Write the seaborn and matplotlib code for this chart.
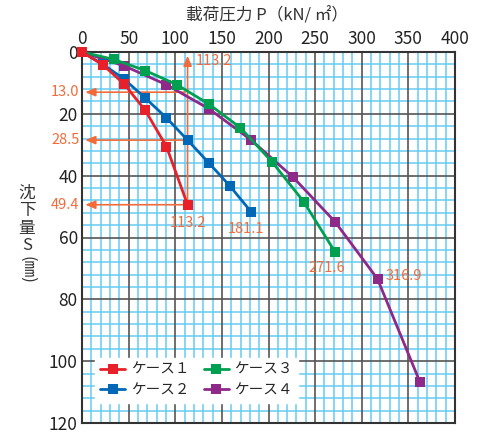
import pandas as pd
import matplotlib
matplotlib.use("Agg")
import matplotlib.pyplot as plt
import seaborn as sns

# load (kN/m2) and settlement (mm)
case_names = ["ケース１", "ケース２", "ケース３", "ケース４"]
case_colors = ["#E8202A", "#0068B7", "#00A051", "#8E2889"]

p_case1 = [0, 22.6, 45.3, 67.9, 90.6, 113.2]
s_case1 = [0, 4.2, 10.4, 18.9, 30.6, 49.4]

p_case2 = [0, 22.6, 45.3, 67.9, 90.6, 113.2, 135.8, 158.5, 181.1]
s_case2 = [0, 4.0, 8.8, 14.9, 21.3, 28.5, 35.8, 43.3, 51.6]

p_case3 = [0, 34.0, 67.9, 101.9, 135.8, 169.8, 203.7, 237.7, 271.6]
s_case3 = [0, 2.4, 6.0, 10.6, 16.8, 24.5, 35.5, 48.4, 64.8]

p_case4 = [0, 45.3, 90.6, 135.8, 181.1, 226.4, 271.6, 316.9, 362.2]
s_case4 = [0, 4.5, 10.6, 18.3, 28.4, 40.5, 55.0, 73.4, 106.6]

# orange annotations
p_limit = 113.2
s_marks = [13.0, 28.5, 49.4]
end_labels = ["113.2", "181.1", "271.6", "316.9"]

ORANGE = "#F26B3A"

sns.set_style("white")
plt.rcParams['font.family'] = ['Noto Sans CJK JP', 'DejaVu Sans']

fig = plt.figure(figsize=(4.87, 4.32), dpi=100)
ax = fig.add_axes([82 / 487, 1 - 423 / 432, 373 / 487, 371 / 432])

frames = []
for name, p, s in zip(case_names, [p_case1, p_case2, p_case3, p_case4],
                      [s_case1, s_case2, s_case3, s_case4]):
    frames.append(pd.DataFrame({"P": p, "S": s, "case": name}))
df = pd.concat(frames, ignore_index=True)

# draw case 4 first so case 1 sits on top
zorders = {name: 10 - i for i, name in enumerate(case_names)}
for name, color in reversed(list(zip(case_names, case_colors))):
    sub = df[df["case"] == name]
    sns.lineplot(data=sub, x="P", y="S", ax=ax, color=color, sort=False,
                 marker="s", markersize=7.5, markeredgewidth=0, linewidth=2,
                 label=name, zorder=zorders[name], clip_on=False)

ax.set_xlim(0, 400)
ax.set_ylim(120, 0)

# grid: cyan minor, dark major
for x in range(10, 400, 10):
    if x % 50:
        ax.axvline(x, color="#66CCF2", lw=1.1, zorder=1)
for y in range(4, 120, 4):
    if y % 20:
        ax.axhline(y, color="#66CCF2", lw=1.1, zorder=1)
for x in range(50, 400, 50):
    ax.axvline(x, color="#555555", lw=1.2, zorder=2)
for y in range(20, 120, 20):
    ax.axhline(y, color="#555555", lw=1.2, zorder=2)

ax.set_xticks(range(0, 401, 50))
ax.set_yticks(range(0, 121, 20))
ax.xaxis.tick_top()
ax.tick_params(axis="both", length=0, labelsize=12.5, colors="#222222", pad=3)
for side in ax.spines.values():
    side.set_color("#333333")
    side.set_linewidth(1.5)
ax.set_xlabel("")
ax.set_ylabel("")

# annotation arrows
arrow_kw = dict(arrowstyle="-|>,head_length=0.6,head_width=0.25", color=ORANGE, lw=1.2)
ax.annotate("", xy=(p_limit, 0.3), xytext=(p_limit, s_marks[2]),
            arrowprops=arrow_kw, zorder=5)
for s in s_marks:
    ax.annotate("", xy=(0.5, s), xytext=(p_limit, s), arrowprops=arrow_kw, zorder=5)
    ax.text(-3, s, f"{s:.1f}", color=ORANGE, fontsize=10.5, ha="right",
            va="center", clip_on=False)

ax.text(p_limit + 9, 2.8, "113.2", color=ORANGE, fontsize=10.5, ha="left", va="center")
ax.text(p_limit, 55.2, end_labels[0], color=ORANGE, fontsize=10.5, ha="center", va="center")
ax.text(176, 57.2, end_labels[1], color=ORANGE, fontsize=10.5, ha="center", va="center")
ax.text(262, 70.0, end_labels[2], color=ORANGE, fontsize=10.5, ha="center", va="center")
ax.text(326, 72.6, end_labels[3], color=ORANGE, fontsize=10.5, ha="left", va="center")

# legend in case order
handles, labels = ax.get_legend_handles_labels()
order = [labels.index(n) for n in case_names]
leg = ax.legend([handles[i] for i in order], case_names, ncol=2, loc="lower left",
                bbox_to_anchor=(0.035, 0.055), borderaxespad=0, fontsize=10.5,
                frameon=True, fancybox=False, framealpha=1, handlelength=1.7,
                columnspacing=1.0, handletextpad=0.4, labelspacing=0.45,
                borderpad=0.35)
leg.get_frame().set_edgecolor("white")
leg.set_zorder(20)

# axis titles
fig.text(267 / 487, 1 - 16 / 432, "載荷圧力 P（kN/ ㎡）", fontsize=12, ha="center",
         va="center", color="#333333")
ylab = [("沈", 193), ("下", 211), ("量", 228), ("S", 246)]
for ch, ypix in ylab:
    fig.text(27 / 487, 1 - ypix / 432, ch, fontsize=12, ha="center", va="center",
             color="#333333")
fig.text(27 / 487, 1 - 270 / 432, "(㎜)", fontsize=12, ha="center", va="center",
         rotation=270, color="#333333")

fig.savefig("out.png", dpi=100)
